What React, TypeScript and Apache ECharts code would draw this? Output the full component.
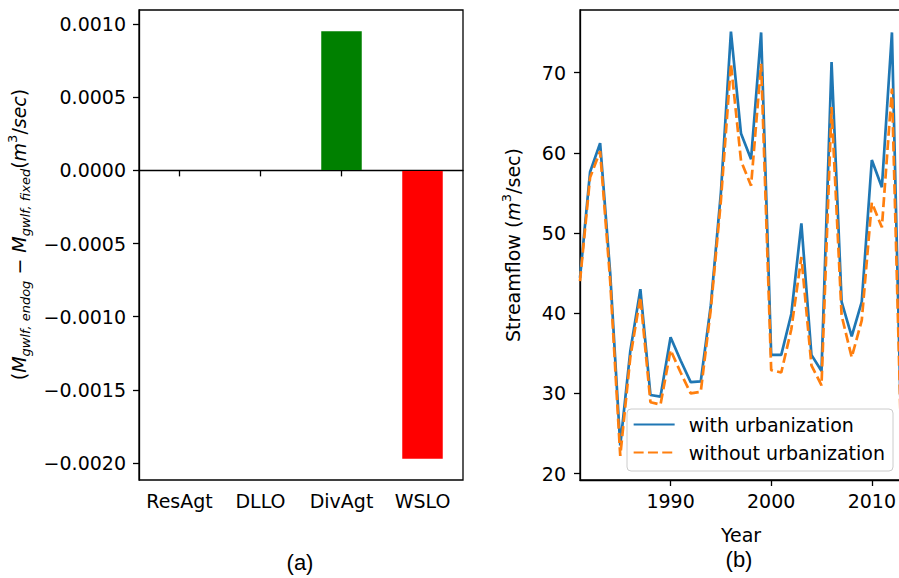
import React, { useEffect, useRef } from "react";
import * as echarts from "echarts";

const agents = ["ResAgt", "DLLO", "DivAgt", "WSLO"];
const massDiff = [0, 0, 0.00095, -0.00197];
const barColors = ["#1f77b4", "#ff7f0e", "#008000", "#ff0000"];
const leftTicks = [-0.002, -0.0015, -0.001, -0.0005, 0, 0.0005, 0.001];

const years = [1981, 1982, 1983, 1984, 1985, 1986, 1987, 1988, 1989, 1990, 1991, 1992, 1993, 1994, 1995, 1996, 1997, 1998, 1999, 2000, 2001, 2002, 2003, 2004, 2005, 2006, 2007, 2008, 2009, 2010, 2011, 2012, 2013];
const withUrban = [44.4, 57.6, 61.2, 45.0, 23.5, 35.3, 43.0, 29.8, 29.6, 37.0, 34.1, 31.4, 31.5, 41.0, 55.0, 75.1, 62.4, 59.2, 75.0, 34.8, 34.8, 39.9, 51.2, 34.8, 32.8, 71.3, 41.4, 37.1, 41.4, 59.1, 55.7, 75.0, 20.5];
const withoutUrban = [44.0, 56.9, 60.2, 44.0, 22.2, 34.5, 42.0, 28.9, 28.6, 35.4, 32.6, 30.0, 30.2, 40.5, 54.0, 71.1, 59.0, 55.9, 71.1, 32.9, 32.6, 38.0, 47.0, 33.5, 31.0, 65.7, 39.7, 34.5, 39.1, 53.8, 50.7, 68.0, 20.0];
const yearTicks = [1990, 2000, 2010];
const flowTicks = [20, 30, 40, 50, 60, 70];

const FONT = "DejaVu Sans";
const FS = 19;

export default function App() {
  const ref = useRef<HTMLDivElement>(null);
  useEffect(() => {
    if (!ref.current) return;
    const chart = echarts.init(ref.current, undefined, { renderer: "svg" });
    const axisLine = { show: true, lineStyle: { color: "#000", width: 1.3 } };
    const axisTick = { show: true, length: 6, lineStyle: { color: "#000", width: 1.3 } };
    const label = { color: "#000", fontFamily: FONT, fontSize: FS };
    const math = {
      p: { fontFamily: FONT, fontSize: FS, color: "#000", lineHeight: 26 },
      i: { fontFamily: FONT, fontSize: FS, fontStyle: "italic", color: "#000", lineHeight: 26 },
      s: { fontFamily: FONT, fontSize: 13, fontStyle: "italic", color: "#000", lineHeight: 12, verticalAlign: "bottom" },
      u: { fontFamily: FONT, fontSize: 13, color: "#000", lineHeight: 12, verticalAlign: "top" },
    };
    chart.setOption({
      animation: false,
      backgroundColor: "#fff",
      grid: [
        { left: 139, right: 440, top: 10, bottom: 98, show: true, borderColor: "#000", borderWidth: 1.3, backgroundColor: "transparent" },
        { left: 580, right: 1, top: 10, bottom: 98, show: true, borderColor: "#000", borderWidth: 1.3, backgroundColor: "transparent" },
      ],
      xAxis: [
        {
          type: "category", gridIndex: 0, data: agents, boundaryGap: true,
          axisLine, axisTick: { ...axisTick, alignWithLabel: true, interval: 0 },
          axisLabel: { ...label, margin: 11, interval: 0 }, splitLine: { show: false },
        },
        {
          type: "value", gridIndex: 1, min: 1981, max: 2013,
          axisLine: { ...axisLine, onZero: false },
          axisTick: { ...axisTick, customValues: yearTicks },
          axisLabel: { ...label, margin: 11, customValues: yearTicks, formatter: (v: number) => String(v) },
          splitLine: { show: false },
          name: "Year", nameLocation: "middle", nameGap: 45,
          nameTextStyle: { ...label },
        },
      ],
      yAxis: [
        {
          type: "value", gridIndex: 0, min: -0.002116, max: 0.001096,
          axisLine, axisTick: { ...axisTick, customValues: leftTicks },
          axisLabel: {
            ...label, margin: 13, customValues: leftTicks,
            formatter: (v: number) => (v < -1e-9 ? "\u2212" : "") + Math.abs(v).toFixed(4),
          },
          splitLine: { show: false },
          name: "{p|(}{i|M}{s|gwlf, endog}{p| \u2212 }{i|M}{s|gwlf, fixed}{p|(}{i|m}{u|3}{p|/}{i|sec}{p|)}",
          nameLocation: "middle", nameGap: 107,
          nameTextStyle: { rich: math, padding: [0, 0, 0, 21] },
        },
        {
          type: "value", gridIndex: 1, min: 19.2, max: 77.8,
          axisLine: { ...axisLine, onZero: false },
          axisTick: { ...axisTick, customValues: flowTicks },
          axisLabel: { ...label, margin: 14, customValues: flowTicks },
          splitLine: { show: false },
          name: "{p|Streamflow (}{i|m}{u|3}{p|/sec)}",
          nameLocation: "middle", nameGap: 54,
          nameTextStyle: { rich: math },
        },
      ],
      legend: {
        orient: "vertical", right: 10, top: 409, z: 6,
        padding: [6, 8, 9, 6], itemGap: 9, itemWidth: 41, itemHeight: 14,
        backgroundColor: "transparent", borderWidth: 0,
        itemStyle: { opacity: 0 },
        textStyle: { ...label, padding: [0, 0, 0, 9] },
        data: ["with urbanization", "without urbanization"],
      },
      series: [
        {
          type: "bar", xAxisIndex: 0, yAxisIndex: 0, barWidth: "50%",
          data: massDiff.map((v, k) => ({ value: v, itemStyle: { color: barColors[k] } })),
          markLine: {
            silent: true, symbol: "none", label: { show: false },
            lineStyle: { color: "#000", width: 1, type: "solid" },
            data: [{ yAxis: 0 }],
          },
        },
        {
          name: "with urbanization", type: "line", xAxisIndex: 1, yAxisIndex: 1,
          symbol: "none", clip: true,
          lineStyle: { color: "#1f77b4", width: 2.7 }, itemStyle: { color: "#1f77b4" },
          data: years.map((y, k) => [y, withUrban[k]]),
        },
        {
          name: "without urbanization", type: "line", xAxisIndex: 1, yAxisIndex: 1,
          symbol: "none", clip: true,
          lineStyle: { color: "#ff7f0e", width: 2.7, type: [10, 4.3] }, itemStyle: { color: "#ff7f0e" },
          data: years.map((y, k) => [y, withoutUrban[k]]),
        },
      ],
      graphic: [
        {
          type: "rect", z: 5, shape: { x: 627, y: 409, width: 266, height: 62, r: 4 },
          style: { fill: "rgba(255,255,255,0.8)", stroke: "#cccccc", lineWidth: 1 },
        },
        { type: "text", x: 300, y: 562, style: { text: "(a)", fontFamily: "Liberation Sans", fontSize: 22, fill: "#000", align: "center", verticalAlign: "middle" } },
        { type: "text", x: 739, y: 559, style: { text: "(b)", fontFamily: "Liberation Sans", fontSize: 22, fill: "#000", align: "center", verticalAlign: "middle" } },
      ],
    });
    return () => chart.dispose();
  }, []);
  return (
    <div style={{ position: "absolute", left: 0, top: 0, width: 899, height: 578, overflow: "hidden" }}>
      <div ref={ref} style={{ width: 903, height: 578 }} />
    </div>
  );
}
